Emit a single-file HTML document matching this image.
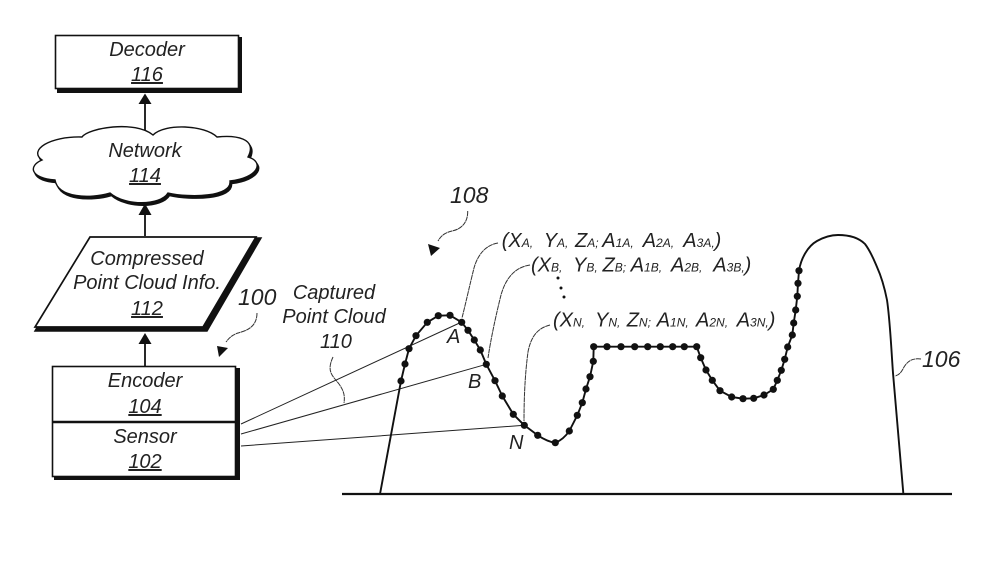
<!DOCTYPE html>
<html><head><meta charset="utf-8"><style>
html,body{margin:0;padding:0;background:#fff;width:982px;height:580px;overflow:hidden}
svg{display:block}
text{font-family:"Liberation Sans",sans-serif;font-style:italic;font-size:20px;fill:#222}
.c{text-anchor:middle}
.u{text-decoration:underline}
.s{font-size:12px}
.l{fill:none;stroke:#222;stroke-width:1}
.h{fill:none;stroke:#111;stroke-width:1.9}
.d{fill:none;stroke:#333;stroke-width:1;stroke-dasharray:5 .5}
</style></head><body>
<svg width="982" height="580" viewBox="0 0 982 580" xmlns="http://www.w3.org/2000/svg">
<rect width="982" height="580" fill="#fff"/>

<!-- Decoder -->
<rect x="57" y="37" width="185" height="56" fill="#111"/>
<rect x="55.5" y="35.5" width="183" height="53" fill="#fff" stroke="#111" stroke-width="1.6"/>
<text class="c" x="147" y="56">Decoder</text>
<text class="c u" x="147" y="81">116</text>
<path d="M145 130V100" stroke="#111" stroke-width="1.8"/>
<path d="M138.5 104L145 93.500L151.500 104Z" fill="#111"/>

<!-- Cloud -->
<path transform="translate(1.5,2.5)" fill="#111" stroke="#111" stroke-width="1.5" d="M82 137C88 128 135 120 153 135C165 123 205 125 217 137C235 135 258 138 248 157C265 162 258 178 230 181C232 197 190 198 168 193C160 206 125 206 110 193C90 199 58 198 55 180C30 178 28 166 42 160C28 150 50 136 82 137Z"/>
<path fill="#fff" stroke="#111" stroke-width="1.4" d="M82 137C88 128 135 120 153 135C165 123 205 125 217 137C235 135 258 138 248 157C265 162 258 178 230 181C232 197 190 198 168 193C160 206 125 206 110 193C90 199 58 198 55 180C30 178 28 166 42 160C28 150 50 136 82 137Z"/>
<text class="c" x="145" y="157">Network</text>
<text class="c u" x="145" y="182">114</text>
<path d="M145 236V210" stroke="#111" stroke-width="1.8"/>
<path d="M138.5 215L145 203.500L151.500 215Z" fill="#111"/>

<!-- Parallelogram -->
<path d="M90 238H261L207 331H35Z" fill="#111" stroke="#111" stroke-width="1.5"/>
<path d="M90 237H256L203 327H35Z" fill="#fff" stroke="#111" stroke-width="1.7"/>
<text class="c" x="147" y="265">Compressed</text>
<text class="c" x="147" y="289">Point Cloud Info.</text>
<text class="c u" x="147" y="315">112</text>
<path d="M145 366V340" stroke="#111" stroke-width="1.8"/>
<path d="M138.5 344L145 333L151.500 344Z" fill="#111"/>

<!-- Encoder / Sensor -->
<rect x="54" y="368" width="186" height="112" fill="#111"/>
<rect x="52.5" y="366.500" width="183" height="110" fill="#fff" stroke="#111" stroke-width="1.6"/>
<path d="M53 422H236" stroke="#111" stroke-width="2.4"/>
<text class="c" x="145" y="387">Encoder</text>
<text class="c u" x="145" y="413">104</text>
<text class="c" x="145" y="443">Sensor</text>
<text class="c u" x="145" y="468">102</text>

<!-- 100 -->
<text x="238" y="305" style="font-size:23px">100</text>
<path class="d" d="M257 313C257 328 245 331 238 333C232 335 229 338 226 342"/>
<path d="M217 346L228 348L219 357Z" fill="#111"/>

<!-- Captured -->
<text class="c" x="334" y="299">Captured</text>
<text class="c" x="334" y="323">Point Cloud</text>
<text class="c" x="336" y="348">110</text>
<path class="d" d="M333 357C326 372 333 376 339 384C344 391 345 396 344 403"/>

<!-- rays -->
<path class="l" d="M241 424L461.7 322M241 434L486.3 364.300M241 446L524.3 425.300"/>

<!-- base -->
<path d="M342 494H952" stroke="#111" stroke-width="2.2"/>

<!-- surface -->
<path class="h" stroke-linejoin="round" d="M380 494L401 381L405 364L409 348.7L416 335.700L427.3 322.300L438.3 315.700L450 315.300L461.7 322.300L468 330.300L474.3 340L480.3 350L486.3 364.300L495 380.700L502.3 396L513.3 414.300L524.3 425.300L537.7 435.300Q548 442 555.3 442.700Q563 440 569.3 431L577.3 415.300L582.3 402.700L586 389L590 376.700L593.3 361.300L593.7 346.700H696.700L700.7 357.700L706 370L712.3 380.300L720 390.700L731.7 397L743 398.700L753.7 398.300L764 395L773.3 389.300L777.3 380.300L781.3 370.300L784.7 359.300L787.7 347L792.3 335L793.7 323L795.7 310L797.3 296.300L798 283.300L799 270.700C801 258 808 246 817 241C826 236 832 235 838 235C848 235 858 237 865 244C871 252 874 260 877 267C882 278 885 290 887 300C890 320 891 345 893 373L903.3 493"/>

<!-- dots -->
<g fill="#111">
<circle cx="401" cy="381" r="3.6"/><circle cx="405" cy="364" r="3.6"/><circle cx="409" cy="348.7" r="3.6"/><circle cx="416" cy="335.7" r="3.6"/><circle cx="427.3" cy="322.3" r="3.6"/><circle cx="438.3" cy="315.7" r="3.6"/><circle cx="450" cy="315.3" r="3.6"/><circle cx="461.7" cy="322.3" r="3.6"/><circle cx="468" cy="330.3" r="3.6"/><circle cx="474.3" cy="340" r="3.6"/><circle cx="480.3" cy="350" r="3.6"/><circle cx="486.3" cy="364.3" r="3.6"/><circle cx="495" cy="380.7" r="3.6"/><circle cx="502.3" cy="396" r="3.6"/><circle cx="513.3" cy="414.3" r="3.6"/><circle cx="524.3" cy="425.3" r="3.6"/><circle cx="537.7" cy="435.3" r="3.6"/><circle cx="555.3" cy="442.7" r="3.6"/><circle cx="569.3" cy="431" r="3.6"/><circle cx="577.3" cy="415.3" r="3.6"/><circle cx="582.3" cy="402.7" r="3.6"/><circle cx="586" cy="389" r="3.6"/><circle cx="590" cy="376.7" r="3.6"/><circle cx="593.3" cy="361.3" r="3.6"/><circle cx="593.7" cy="346.7" r="3.6"/><circle cx="607" cy="346.7" r="3.6"/><circle cx="621" cy="346.7" r="3.6"/><circle cx="634.7" cy="346.7" r="3.6"/><circle cx="647.7" cy="346.7" r="3.6"/><circle cx="660.3" cy="346.7" r="3.6"/><circle cx="672.7" cy="346.7" r="3.6"/><circle cx="684.3" cy="346.7" r="3.6"/><circle cx="696.7" cy="346.7" r="3.6"/><circle cx="700.7" cy="357.7" r="3.6"/><circle cx="706" cy="370" r="3.6"/><circle cx="712.3" cy="380.3" r="3.6"/><circle cx="720" cy="390.7" r="3.6"/><circle cx="731.7" cy="397" r="3.6"/><circle cx="743" cy="398.7" r="3.6"/><circle cx="753.7" cy="398.3" r="3.6"/><circle cx="764" cy="395" r="3.6"/><circle cx="773.3" cy="389.3" r="3.6"/><circle cx="777.3" cy="380.3" r="3.6"/><circle cx="781.3" cy="370.3" r="3.6"/><circle cx="784.7" cy="359.3" r="3.6"/><circle cx="787.7" cy="347" r="3.6"/><circle cx="792.3" cy="335" r="3.6"/><circle cx="793.7" cy="323" r="3.6"/><circle cx="795.7" cy="310" r="3.6"/><circle cx="797.3" cy="296.3" r="3.6"/><circle cx="798" cy="283.3" r="3.6"/><circle cx="799" cy="270.7" r="3.6"/>
<circle cx="558" cy="278" r="1.5"/><circle cx="561" cy="288" r="1.5"/><circle cx="564" cy="297" r="1.5"/>
</g>

<!-- leaders -->
<path class="d" d="M498 243C486 245 478 254 474 268C470 284 466 302 462 318"/>
<path class="d" d="M530 265C516 267 506 277 501 295C496 315 491 338 488 358"/>
<path class="d" d="M550 325C538 328 531 336 528 352C525 374 524 398 524 421"/>
<path class="d" d="M467.7 211C468 222 462 229 452 231C444 233 441 236 438 241"/>
<path d="M428 244L440 248L431 256Z" fill="#111"/>
<path class="d" d="M921 359C912 358 908 361 904 367C901 373 899 375 895 376"/>

<!-- labels -->
<text x="450" y="203" style="font-size:23px">108</text>
<text x="447" y="343">A</text>
<text x="468" y="388">B</text>
<text x="509" y="449">N</text>
<text x="922" y="367" style="font-size:23px">106</text>

<text x="501.7" y="247">(X<tspan class="s">A</tspan><tspan class="s">,</tspan></text>
<text x="543.7" y="247">Y<tspan class="s">A</tspan><tspan class="s">,</tspan></text>
<text x="575" y="247">Z<tspan class="s">A</tspan><tspan class="s">;</tspan></text>
<text x="602.3" y="247">A<tspan class="s">1A</tspan><tspan class="s">,</tspan></text>
<text x="642.7" y="247">A<tspan class="s">2A</tspan><tspan class="s">,</tspan></text>
<text x="683.3" y="247">A<tspan class="s">3A</tspan><tspan class="s">,</tspan>)</text>

<text x="531" y="271.5">(X<tspan class="s">B</tspan><tspan class="s">,</tspan></text>
<text x="573" y="271.5">Y<tspan class="s">B</tspan><tspan class="s">,</tspan></text>
<text x="602.5" y="271.5">Z<tspan class="s">B</tspan><tspan class="s">;</tspan></text>
<text x="630.7" y="271.5">A<tspan class="s">1B</tspan><tspan class="s">,</tspan></text>
<text x="671" y="271.5">A<tspan class="s">2B</tspan><tspan class="s">,</tspan></text>
<text x="713.3" y="271.5">A<tspan class="s">3B</tspan><tspan class="s">,</tspan>)</text>

<text x="553" y="326.5">(X<tspan class="s">N</tspan><tspan class="s">,</tspan></text>
<text x="595" y="326.5">Y<tspan class="s">N</tspan><tspan class="s">,</tspan></text>
<text x="626.7" y="326.5">Z<tspan class="s">N</tspan><tspan class="s">;</tspan></text>
<text x="656.7" y="326.5">A<tspan class="s">1N</tspan><tspan class="s">,</tspan></text>
<text x="696" y="326.5">A<tspan class="s">2N</tspan><tspan class="s">,</tspan></text>
<text x="736.7" y="326.5">A<tspan class="s">3N</tspan><tspan class="s">,</tspan>)</text>
</svg>
</body></html>
